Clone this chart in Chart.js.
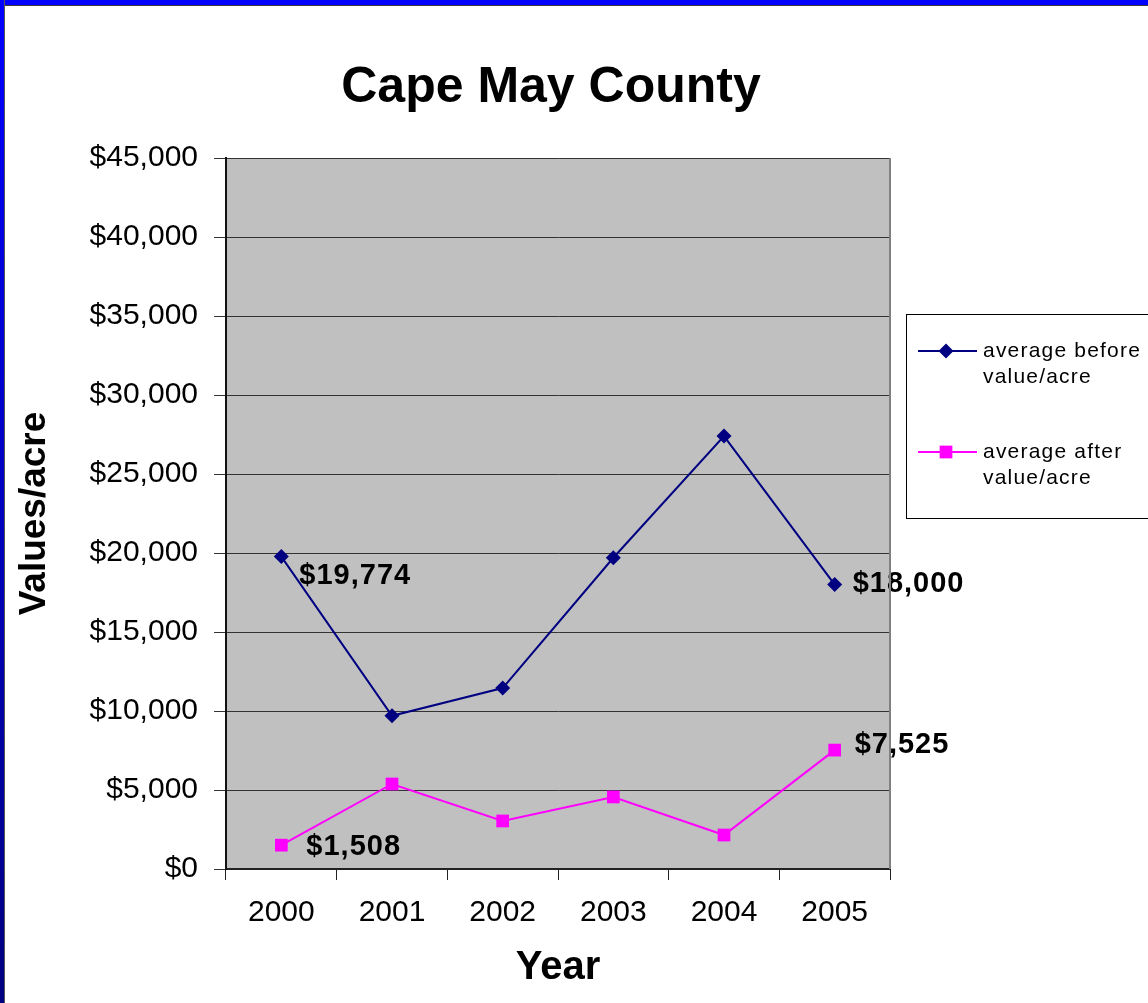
<!DOCTYPE html>
<html>
<head>
<meta charset="utf-8">
<title>Cape May County</title>
<script src="https://cdn.jsdelivr.net/npm/chart.js@4.4.0/dist/chart.umd.min.js"></script>
<style>
  html, body { margin: 0; padding: 0; background: #fff; overflow: hidden; }
  #wrap { position: relative; width: 1148px; height: 1003px; }
  #chart { position: absolute; left: 0; top: 0; }
  .frameTop { position: absolute; left: 0; top: 0; width: 1148px; height: 5px; background: #0000ff; border-bottom: 1px solid #3c3c3c; }
  .frameLeft { position: absolute; left: 0; top: 0; width: 4px; height: 1003px; background: linear-gradient(#0000ff, #000080); border-right: 1px solid #555; }
</style>
</head>
<body>
<div id="wrap">
  <canvas id="chart" width="1148" height="1003"></canvas>
  <div class="frameTop"></div>
  <div class="frameLeft"></div>
</div>
<script>
const years = ['2000', '2001', '2002', '2003', '2004', '2005'];
const beforeValues = [19774, 9700, 11450, 19700, 27400, 18000];
const afterValues = [1508, 5380, 3040, 4560, 2150, 7525];
const yMin = 0;
const yMax = 45000;
const yStep = 5000;

const FONT = "'Liberation Sans', Arial, Helvetica, sans-serif";

const money = v => '$' + v.toLocaleString('en-US');

// value labels on the first and last point of each line: [datasetIndex, pointIndex, dx, dy]
const valueLabels = [
    [0, 0, 18, 19],
    [0, 5, 18, -1],
    [1, 0, 25, 2],
    [1, 5, 20, -5]
];

// grey plot background and right border
const plotBackground = {
    id: 'plotBackground',
    beforeDraw(chart) {
        const { ctx, chartArea: a } = chart;
        ctx.save();
        ctx.fillStyle = '#c0c0c0';
        ctx.fillRect(a.left, a.top, a.right - a.left, a.bottom - a.top);
        ctx.restore();
    },
    afterDraw(chart) {
        const { ctx, chartArea: a } = chart;
        ctx.save();
        ctx.strokeStyle = '#808080';
        ctx.lineWidth = 2;
        ctx.beginPath();
        ctx.moveTo(a.right, a.top);
        ctx.lineTo(a.right, a.bottom);
        ctx.stroke();
        ctx.restore();
    }
};

const pointLabels = {
    id: 'pointLabels',
    afterDatasetsDraw(chart) {
        const ctx = chart.ctx;
        ctx.save();
        ctx.font = 'bold 29px ' + FONT;
        ctx.letterSpacing = '1px';
        ctx.fillStyle = '#000';
        ctx.textAlign = 'left';
        ctx.textBaseline = 'middle';
        valueLabels.forEach(([ds, i, dx, dy]) => {
            const pt = chart.getDatasetMeta(ds).data[i];
            const v = chart.data.datasets[ds].data[i];
            ctx.fillText(money(v), pt.x + dx, pt.y + dy);
        });
        ctx.restore();
    }
};

// boxed legend to the right of the plot, labels wrapped on two lines
const sideLegend = {
    id: 'sideLegend',
    afterDraw(chart) {
        const ctx = chart.ctx;
        const box = { x: 906, y: 314, w: 260, h: 204 };
        ctx.save();
        ctx.fillStyle = '#fff';
        ctx.fillRect(box.x, box.y, box.w, box.h);
        ctx.strokeStyle = '#000';
        ctx.lineWidth = 1;
        ctx.strokeRect(box.x + 0.5, box.y + 0.5, box.w, box.h);

        ctx.font = '21px ' + FONT;
        ctx.letterSpacing = '1.2px';
        ctx.textAlign = 'left';
        ctx.textBaseline = 'middle';
        chart.data.datasets.forEach((ds, k) => {
            const y = 351 + k * 101;
            ctx.strokeStyle = ds.borderColor;
            ctx.lineWidth = 2;
            ctx.beginPath();
            ctx.moveTo(918, y);
            ctx.lineTo(977, y);
            ctx.stroke();
            ctx.fillStyle = ds.pointBackgroundColor;
            Chart.helpers.drawPoint(ctx, { pointStyle: ds.pointStyle, radius: ds.pointRadius, borderWidth: 0 }, 946, y);
            const cut = ds.label.lastIndexOf(' ');
            ctx.fillStyle = '#000';
            ctx.fillText(ds.label.slice(0, cut), 983, y);
            ctx.fillText(ds.label.slice(cut + 1), 983, y + 26);
        });
        ctx.restore();
    }
};

new Chart(document.getElementById('chart'), {
    type: 'line',
    data: {
        labels: years,
        datasets: [
            {
                label: 'average before value/acre',
                data: beforeValues,
                borderColor: '#000080',
                backgroundColor: '#000080',
                pointBackgroundColor: '#000080',
                pointBorderWidth: 0,
                pointStyle: 'rectRot',
                pointRadius: 7.5,
                borderWidth: 2,
                tension: 0
            },
            {
                label: 'average after value/acre',
                data: afterValues,
                borderColor: '#ff00ff',
                backgroundColor: '#ff00ff',
                pointBackgroundColor: '#ff00ff',
                pointBorderWidth: 0,
                pointStyle: 'rect',
                pointRadius: 9,
                borderWidth: 2,
                tension: 0
            }
        ]
    },
    options: {
        responsive: false,
        animation: false,
        layout: { padding: { left: 5, right: 51, top: 0, bottom: 0 } },
        plugins: {
            legend: { display: false },
            tooltip: { enabled: false },
            title: {
                display: true,
                text: 'Cape May County',
                color: '#000',
                font: { family: FONT, size: 50, weight: 'bold', lineHeight: 1.2 },
                padding: { top: 58, bottom: 40 }
            }
        },
        scales: {
            x: {
                offset: true,
                afterFit(scale) { scale.height = 134; },
                grid: { offset: true, drawOnChartArea: false, drawTicks: true, tickLength: 11, color: '#222', lineWidth: 1 },
                border: { display: true, color: '#222', width: 2 },
                ticks: { color: '#000', padding: 15, font: { family: FONT, size: 30 } },
                title: {
                    display: true,
                    text: 'Year',
                    color: '#000',
                    font: { family: FONT, size: 40, weight: 'bold', lineHeight: 1.2 },
                    padding: { top: 0, bottom: 11 }
                }
            },
            y: {
                min: yMin,
                max: yMax,
                afterFit(scale) { scale.width = 221; },
                grid: { drawTicks: true, tickLength: 12, color: '#333', lineWidth: 1 },
                border: { display: true, color: '#111', width: 2 },
                ticks: {
                    stepSize: yStep,
                    color: '#000',
                    padding: 16,
                    font: { family: FONT, size: 30 },
                    callback: v => money(v)
                },
                title: {
                    display: true,
                    text: 'Values/acre',
                    color: '#000',
                    font: { family: FONT, size: 37, weight: 'bold', lineHeight: 1.2 },
                    padding: { top: 8, bottom: 0 }
                }
            },
            // empty scale that reserves the room where the legend box sits
            legendSpace: {
                position: 'right',
                axis: 'y',
                afterFit(scale) { scale.width = 207; },
                grid: { display: false },
                border: { display: false },
                ticks: { display: false }
            }
        }
    },
    plugins: [plotBackground, pointLabels, sideLegend]
});
</script>
</body>
</html>
